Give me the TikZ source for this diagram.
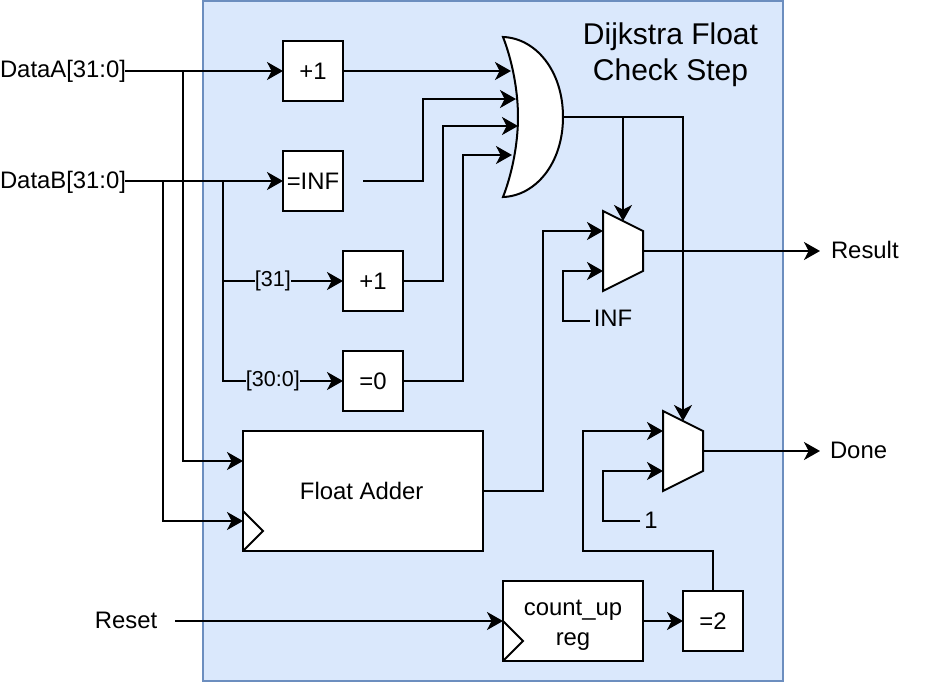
\documentclass[tikz,border=0pt]{standalone}
\usepackage{fontspec}
\setmainfont{Liberation Sans}
\usetikzlibrary{arrows.meta}
\definecolor{panelfill}{HTML}{DAE8FC}
\definecolor{panelline}{HTML}{6C8EBF}
\tikzstyle{blk}=[draw, fill=white, inner sep=0, outer sep=0, minimum width=45pt, minimum height=45pt, align=center]
\tikzstyle{lbl}=[inner sep=0, outer sep=0, align=center]
\tikzstyle{wire}=[-{Stealth[length=12pt, width=13.5pt, inset=3.5pt]}]
\tikzstyle{gate}=[draw, fill=white, line join=miter]

\begin{document}
\begin{tikzpicture}[x=0.75pt, y=-0.75pt, line width=1.5pt, font=\fontsize{17.9}{22}\selectfont]
        \useasboundingbox (0,0) rectangle (926,682);
        \node[draw=panelline, fill=panelfill, inner sep=0, minimum width=435pt, minimum height=510pt] (panel) at (493,341) {};
        \node[lbl, font=\fontsize{22.5}{27}\selectfont] (title) at (670.5,55) {Dijkstra Float\\Check Step};
        % inputs and outputs
        \node[lbl, anchor=west] (dataa) at (0,71) {DataA[31:0]};
        \node[lbl, anchor=west] (datab) at (0,182) {DataB[31:0]};
        \node[lbl] (reset) at (126,620) {Reset};
        \node[lbl, anchor=west] (result) at (831,250) {Result};
        \node[lbl, anchor=west] (done) at (830,450) {Done};
        \node[lbl] (inf) at (613,318) {INF};
        \node[lbl] (one) at (651,520) {1};
        % blocks
        \node[blk] (incA) at (313,71) {+1};
        \node[blk] (isinf) at (313,181) {=INF};
        \node[blk] (incB) at (373,281) {+1};
        \node[blk] (iszero) at (373,381) {=0};
        \node[blk, minimum width=180pt, minimum height=90pt] (adder) at (363,491) {\hspace*{-2pt}Float Adder};
        \node[blk, minimum width=105pt, minimum height=60pt] (count) at (573,621) {\rule{0pt}{18pt}count\_up\\reg};
        \node[blk] (istwo) at (713,621) {=2};
        % clock marks
        \draw (adder.west |- 0,511) -- (263,531) -- (adder.south west);
        \draw (count.west) -- (523,641) -- (count.south west);
        % or gate
        \draw[gate] (503,37) .. controls (535,38) and (563,70) .. (563,117)
            .. controls (563,164) and (535,196) .. (503,197)
            .. controls (512,174) and (518,144) .. (518,117)
            .. controls (518,90) and (512,60) .. (503,37) -- cycle;
        \coordinate (orout) at (563,117);
        % muxes
        \draw[gate] (603,211) -- (643,231) -- (643,271) -- (603,291) -- cycle;
        \draw[gate] (663,411) -- (703,431) -- (703,471) -- (663,491) -- cycle;
        \coordinate (muxa) at (643,251);
        \coordinate (muxb) at (703,451);
        % free ends
        \coordinate (infout) at (363,181);
        \coordinate (orA) at (511,71);
        \coordinate (orB) at (516,99);
        \coordinate (orC) at (518,126);
        \coordinate (orD) at (512,155);
        % data wires
        \draw[wire] (125,71) -- (incA.west);
        \draw[wire] (125,181) -- (isinf.west);
        \draw[wire] (183,71) |- (243,461);
        \draw[wire] (163,181) |- (243,521);
        \draw[wire] (223,181) |- (incB.west) node[lbl, pos=0.708, fill=panelfill] (bitsign) {\fontsize{16.2}{20}\selectfont [31]};
        \draw[wire] (223,181) |- (iszero.west) node[lbl, pos=0.708, fill=panelfill] (bitrest) {\fontsize{16.2}{20}\selectfont [30:0]};
        \draw[wire] (incA.east) -- (orA);
        \draw[wire] (infout) -| (423,99) -- (orB);
        \draw[wire] (incB.east) -| (443,126) -- (orC);
        \draw[wire] (iszero.east) -| (463,155) -- (orD);
        % mux wires
        \draw[wire] (orout) -| (623,221);
        \draw[wire] (orout) -| (683,421);
        \draw[wire] (adder.east) -| (543,231) -- (603,231);
        \draw[wire] (inf.west) ++(-4,3) -| (563,271) -- (603,271);
        \draw[wire] (muxa) -- (820,251);
        \draw[wire] (muxb) -- (820,451);
        \draw[wire] (one.west) ++(-4,1) -| (603,471) -- (663,471);
        \draw[wire] (istwo.north) |- (583,551) |- (663,431);
        \draw[wire] (count.east) -- (istwo.west);
        \draw[wire] (reset.east) ++(18,1) -- (count.west);
\end{tikzpicture}
\end{document}
